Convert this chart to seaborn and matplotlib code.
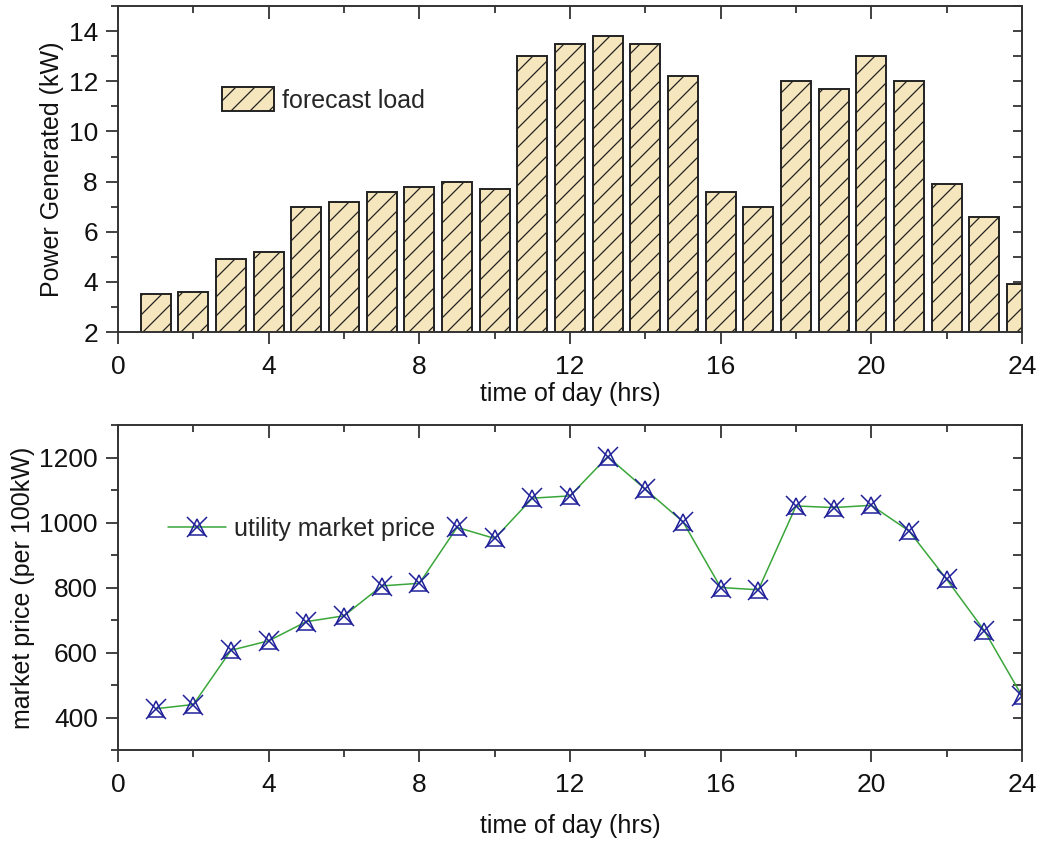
import numpy as np
import pandas as pd
import matplotlib
matplotlib.use("Agg")
import matplotlib.pyplot as plt
from matplotlib.lines import Line2D
from matplotlib.patches import Patch
from matplotlib.ticker import MultipleLocator
import seaborn as sns

# hourly values
hours = list(range(1, 25))
load_kw = [3.5, 3.6, 4.9, 5.2, 7.0, 7.2, 7.6, 7.8, 8.0, 7.7, 13.0, 13.5,
           13.8, 13.5, 12.2, 7.6, 7.0, 12.0, 11.7, 13.0, 12.0, 7.9, 6.6, 3.9]
price = [427, 440, 607, 636, 695, 713, 805, 813, 985, 951, 1075, 1082,
         1203, 1102, 1002, 800, 793, 1051, 1046, 1053, 974, 825, 667, 466]

# hatch spacing follows the dpi; sizes below are given as "100 dpi" points
DPI = 114
S = 100 / DPI

sns.set_style("ticks")
plt.rcParams['font.family'] = ['Liberation Sans', 'DejaVu Sans']
plt.rcParams['hatch.linewidth'] = 0.9 * S
plt.rcParams['hatch.color'] = '#222222'

bar_col = '#F6E6BE'
line_col = '#3aa63a'
mark_col = '#20209a'
spine_col = '#333333'
edge_col = '#222222'
text_col = '#111111'

df_load = pd.DataFrame({'hour': hours, 'load': load_kw})
df_price = pd.DataFrame({'hour': hours, 'price': price})

fig = plt.figure(figsize=(1041 / DPI, 841 / DPI), dpi=DPI)
ax1 = fig.add_axes([0.1134, 0.6052, 0.8684, 0.3876])
ax2 = fig.add_axes([0.1134, 0.1082, 0.8684, 0.3864])

TICK_FS = 19 * S
LABEL_FS = 18 * S
LEG_FS = 18 * S


def style_axes(ax):
    for s in ax.spines.values():
        s.set_color(spine_col)
        s.set_linewidth(1.4 * S)
    ax.tick_params(which='major', direction='out', length=8.5 * S,
                   width=1.3 * S, color=spine_col, labelsize=TICK_FS,
                   labelcolor=text_col)
    ax.tick_params(axis='x', pad=8 * S)
    ax.tick_params(axis='y', pad=6 * S)
    ax.tick_params(which='minor', direction='out', length=5 * S,
                   width=1.3 * S, color=spine_col)
    ax.xaxis.set_major_locator(MultipleLocator(4))
    ax.xaxis.set_minor_locator(MultipleLocator(2))
    top = ax.secondary_xaxis('top')
    top.xaxis.set_major_locator(MultipleLocator(4))
    top.xaxis.set_minor_locator(MultipleLocator(2))
    top.tick_params(which='major', direction='in', length=9 * S,
                    width=1.3 * S, color=spine_col, labeltop=False)
    top.tick_params(which='minor', direction='in', length=5 * S,
                    width=1.3 * S, color=spine_col)
    top.spines['top'].set_visible(False)
    right = ax.secondary_yaxis('right')
    right.yaxis.set_major_locator(ax.yaxis.get_major_locator())
    right.yaxis.set_minor_locator(ax.yaxis.get_minor_locator())
    right.tick_params(which='both', direction='in', length=6.5 * S,
                      width=1.3 * S, color=spine_col, labelright=False)
    right.spines['right'].set_visible(False)


# --- top: forecast load bars ---
sns.barplot(data=df_load, x='hour', y='load', native_scale=True,
            color=bar_col, saturation=1, edgecolor=edge_col,
            linewidth=1.4 * S, hatch='//', width=0.8, ax=ax1)
ax1.set_xlim(0, 24)
ax1.set_ylim(2, 15)
ax1.yaxis.set_major_locator(MultipleLocator(2))
ax1.yaxis.set_minor_locator(MultipleLocator(1))
style_axes(ax1)
ax1.set_xlabel('time of day (hrs)', fontsize=LABEL_FS, labelpad=2 * S,
               color=text_col)
ax1.set_ylabel('Power Generated (kW)', fontsize=LABEL_FS, labelpad=3 * S,
               color=text_col)
ax1.legend(handles=[Patch(facecolor=bar_col, edgecolor=edge_col,
                          hatch='//', linewidth=1.4 * S)],
           labels=['forecast load'], loc='center left',
           bbox_to_anchor=(0.090, 0.713), frameon=False, fontsize=LEG_FS,
           handlelength=2.1, handleheight=1.15, handletextpad=0.32)

# --- bottom: market price line ---
mk = dict(ls='', mec=mark_col, mew=1.1 * S)
sns.lineplot(data=df_price, x='hour', y='price', color=line_col,
             lw=1.1 * S, ax=ax2)
sns.lineplot(data=df_price, x='hour', y='price', marker='^', ms=12 * S,
             mfc='none', ax=ax2, **mk)
sns.lineplot(data=df_price, x='hour', y='price', marker='x', ms=14 * S,
             ax=ax2, **mk)
ax2.set_xlim(0, 24)
ax2.set_ylim(300, 1300)
ax2.yaxis.set_major_locator(MultipleLocator(200))
ax2.yaxis.set_minor_locator(MultipleLocator(100))
style_axes(ax2)
ax2.set_xlabel('time of day (hrs)', fontsize=LABEL_FS, labelpad=12 * S,
               color=text_col)
ax2.set_ylabel('market price (per 100kW)', fontsize=LABEL_FS,
               labelpad=3 * S, color=text_col)
h = (Line2D([], [], color=line_col, lw=1.1 * S),
     Line2D([], [], marker='^', ms=12 * S, mfc='none', **mk),
     Line2D([], [], marker='x', ms=14 * S, **mk))
ax2.legend(handles=[h], labels=['utility market price'], loc='center left',
           bbox_to_anchor=(0.030, 0.680), frameon=False, fontsize=LEG_FS,
           handlelength=2.35, handletextpad=0.3)

fig.savefig('out.png', dpi=DPI)
